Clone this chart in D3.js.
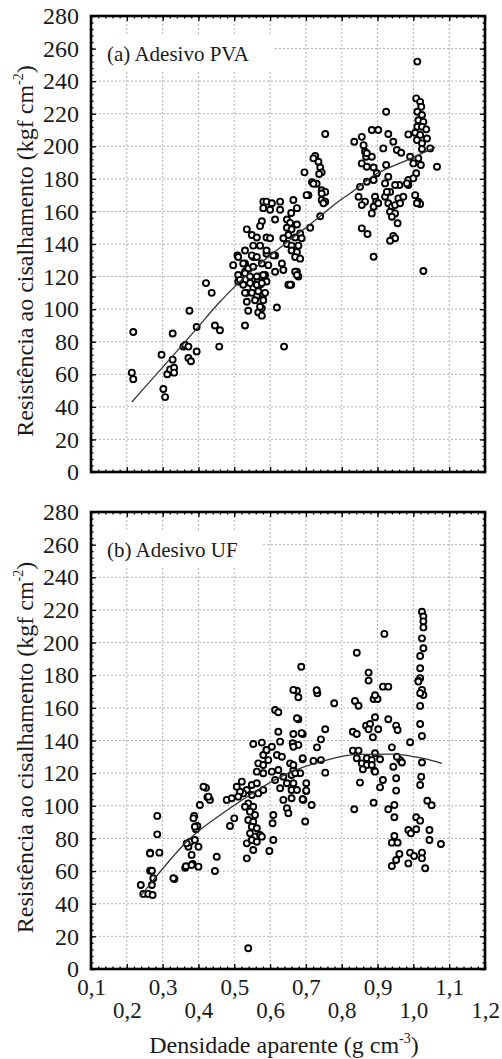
<!DOCTYPE html>
<html>
  <head>
    <meta charset="utf-8" />
    <title>densidade x resistencia</title>
    <script src="https://cdn.jsdelivr.net/npm/d3@7"></script>
    <style>
      body { margin: 0; background: #fff; }
      text { font-family: "Liberation Serif", "Tinos", "Times New Roman", "Nimbus Roman", "DejaVu Serif", serif; fill: #1a1a1a; }
    </style>
  </head>
  <body>
    <svg id="chart"></svg>
    <script>

      // (a) Adesivo PVA - densidade (g cm-3), resistencia (kgf cm-2)
      var pvaPoints = [
        [0.218,86],[0.214,61],[0.218,57],[0.302,51],[0.307,46],[0.297,72],[0.328,85],[0.328,69],[0.313,60],[0.321,63],
        [0.332,64],[0.332,61],[0.358,77],[0.363,78],[0.372,77],[0.372,70],[0.379,68],[0.395,74],[0.395,89],[0.375,99],
        [0.421,116],[0.437,110],[0.446,90],[0.46,87],[0.458,77],[0.53,90],[0.619,101],[0.639,77],
        [0.509,133],[0.497,127],[0.53,128],[0.553,132],[0.59,134],[0.614,133],[0.633,128],[0.637,124],[0.614,123],[0.511,121],
        [0.511,117],[0.53,123],[0.549,118],[0.572,120],[0.586,121],[0.59,117],[0.525,115],[0.535,110],[0.553,113],[0.572,115],
        [0.563,108],[0.581,109],[0.535,104.5],[0.539,99],[0.567,98],[0.577,100.5],[0.577,96],[0.651,115],
        [0.754,207.5],[0.726,194],[0.735,190.5],[0.74,187],[0.744,184],[0.696,184],[0.717,178],[0.73,177],[0.707,170],[0.744,173],
        [0.754,172],[0.744,167],[0.754,166],[0.74,157],[0.581,166],[0.59,166],[0.605,165],[0.628,166],[0.581,162],[0.6,161],
        [0.628,161],[0.665,167],[0.675,162],[0.659,159],[0.614,155],[0.577,154],[0.572,151],[0.535,149],[0.549,145.5],[0.563,144],
        [0.59,144],[0.6,143.5],[0.647,155],[0.656,153],[0.647,150],[0.66,149],[0.675,152],[0.651,145.5],[0.637,143.5],[0.67,144],
        [0.684,146.5],[0.688,143.5],[0.712,150],[0.553,139],[0.572,139],[0.59,136],[0.53,136],[0.549,133],[0.563,132],[0.609,133],
        [0.647,140],[0.66,139],[0.679,139],[0.66,136],[0.675,135],[0.67,132],[0.684,131],[0.511,132],[0.525,128],[0.539,125],
        [0.553,126],[0.577,128],[0.595,127],[0.675,123],[0.679,120],[0.659,115],[0.516,118],[0.53,122],[0.544,120],[0.563,120],
        [0.581,121],[0.544,116],[0.563,115],[0.577,116],[0.53,110],[0.549,110],[0.567,111],[0.586,110],[0.558,105.5],[0.581,105.5],
        [0.572,101.5],[0.656,115],[0.67,123],[0.675,121],[0.702,170],[0.721,177],[0.749,165],[0.744,171],[0.721,192.6],[0.737,183],
        [1.011,252],[1.008,229.4],[1.019,227.3],[1.022,224.3],[1.011,221.2],[1.024,219.2],[1.014,216],[1.028,215],[1.011,212],[1.024,212],
        [1.036,210.4],[0.986,207.3],[1.005,208.3],[1.019,207],[1.038,204.8],[1.01,203.8],[1.024,201.8],[1.047,198.7],[1.024,198.3],[1.066,187.4],
        [0.924,221.2],[0.884,210],[0.902,210],[0.93,207.5],[0.835,202.8],[0.856,205.8],[0.861,200.7],[0.944,202.8],[0.916,198.7],[0.954,197.7],
        [0.966,196],[0.865,196.6],[0.868,193.6],[0.884,193.6],[0.856,189.5],[0.87,187.4],[0.889,187],[0.924,188.5],[0.898,183.4],[0.889,179.3],
        [0.93,181.3],[0.991,193.6],[1.014,192.6],[1.021,188.5],[1.0,189.5],[1.008,183.4],[0.986,179.3],[1.0,180.3],[0.986,176.2],[0.87,178.2],
        [0.851,175.1],[0.921,177.2],[0.961,176.2],[0.935,172],[0.847,169],[0.865,166],[0.856,163.9],[0.893,169],[0.896,166],[0.889,162.9],
        [0.884,158.8],[0.921,169],[0.93,165],[0.94,162.9],[0.949,163.9],[0.958,168],[0.972,169],[0.935,159.8],[0.949,158.8],[0.94,156.7],
        [1.005,170],[1.014,166],[1.019,164.6],[0.956,152.7],[0.856,149.6],[0.872,146.1],[0.944,145],[0.949,143.5],[0.935,142],
        [0.889,132.2],[1.028,123.4],[1.01,165],[0.926,172],[0.949,176.2],[0.982,177.2],[0.963,165],[0.902,165],[0.87,195.7]
      ];

      // linha de ajuste (a)
      var pvaFit = [
        [0.214,43],[0.395,88],[0.46,104.5],[0.502,114],[0.74,157],[0.796,167],[0.823,171],[0.889,182],[0.982,191.5],[1.061,199.3]
      ];

      // (b) Adesivo UF
      var ufPoints = [
        [0.539,12.7],[0.239,51.5],[0.246,46],[0.26,46],[0.272,45.3],[0.27,51.5],[0.265,60.2],[0.274,55.6],[0.265,71.3],[0.291,71.3],
        [0.285,82.5],[0.285,93.8],[0.333,55.1],[0.363,62],[0.365,63],[0.384,64.3],[0.4,62.7],[0.381,69.9],[0.372,74.9],[0.377,78],
        [0.39,79],[0.4,74.9],[0.393,85.6],[0.397,87.6],[0.388,93.8],[0.404,100.5],[0.421,111],[0.425,105.3],[0.432,103.6],[0.451,68.8],
        [0.446,60],[0.479,103.6],[0.493,104.6],[0.488,87.6],[0.5,92.3],[0.535,67.8],[0.535,77],[0.553,72.9],[0.598,72.3],[0.609,79],
        [0.607,89.3],[0.609,94.4],[0.698,90.4],[0.691,104],[0.701,109],
        [0.521,114.8],[0.535,109.7],[0.549,112.7],[0.563,113.8],[0.525,107.6],[0.549,106.6],[0.567,107.6],[0.581,109.7],[0.539,101.5],[0.553,99.4],
        [0.53,99.4],[0.544,96.4],[0.558,94.4],[0.539,91.3],[0.553,90.2],[0.549,87.2],[0.563,86.2],[0.544,83.1],[0.558,81.1],[0.572,82.1],
        [0.577,81.1],[0.549,79],[0.563,78],[0.516,108.6],[0.507,111.7],[0.511,105.6],
        [0.553,137.9],[0.577,138.7],[0.59,134.2],[0.581,131.1],[0.567,126],[0.581,125],[0.595,128],[0.619,131.1],[0.633,130],[0.563,120.9],
        [0.581,119.9],[0.605,120.9],[0.623,121.9],[0.614,115.8],[0.637,117.8],[0.628,110.7],[0.656,126],[0.665,121.9],[0.66,118.9],[0.647,113.8],
        [0.66,109.7],[0.637,103.6],[0.647,98.5],[0.651,95.4],[0.665,137.9],[0.679,137.3],[0.691,128.5],[0.684,119.9],[0.701,113.8],[0.693,103.6],
        [0.605,136.2],
        [1.024,218.9],[1.028,216],[1.028,213],[1.028,209.3],[1.024,202.6],[1.028,196.5],[1.019,191.8],[1.019,184.3],[1.019,178.2],[1.014,176.7],
        [1.024,171],[1.028,167.9],[1.019,161.2],[1.019,150.1],[1.024,142.8],[1.024,126.5],[1.022,117.8],[1.019,112.7],[0.919,205.3],[0.842,193.8],
        [0.875,181.6],[0.875,176.7],[0.915,173],[0.687,185.2],[0.675,170.5],[0.679,166.5],[0.732,168.9],[0.779,162.8],[0.837,164.2],[0.847,161.3],
        [0.889,165.4],[0.9,165.4],[0.679,153],[0.754,146.9],[0.665,144],[0.691,144],[0.663,138.3],[0.742,140.7],[0.731,135.8],[0.831,145.4],
        [0.842,144],[0.868,149.1],[0.879,150.1],[0.893,154.2],[0.875,146.9],[0.887,142],[0.902,146.9],[0.93,153],[0.952,149.1],[0.956,146.4],
        [0.991,138.9],[0.94,135.8],[0.831,133.8],[0.847,133.8],[0.842,129.1],[0.856,126],[0.87,129.1],[0.884,128],[0.893,132.2],[0.87,125],
        [0.859,122.4],[0.884,125],[0.891,121.5],[0.907,128.5],[0.893,120.9],[0.944,123.9],[0.963,128],[0.954,130],[0.968,126.5],[0.851,114.2],
        [0.915,115.8],[0.907,111.3],[0.952,116.9],[0.952,109.3],[0.889,101.9],[0.835,97.9],[0.754,120.3],[0.691,129.1],[0.721,127.5],[0.742,128],
        [0.701,109.3],[0.691,104],[0.716,100.5],[0.93,97.9],[0.947,100.5],[0.947,93],[1.008,93],[1.019,90.9],[1.039,103.1],[1.051,100.3],
        [1.045,85.2],[1.045,79],[1.077,76.6],[0.947,81.5],[0.94,77.4],[0.956,77.4],[0.961,70.5],[0.952,66.8],[0.94,63.1],[0.986,85.2],
        [0.993,83.1],[1.008,85.6],[0.991,71.3],[1.002,69.2],[1.024,71.3],[1.024,67.8],[0.986,64.7],[1.033,61.7],[0.665,125],[0.67,119.9],
        [0.675,109.7],[0.665,113.8],[0.66,104.6],
        [0.665,171],[0.73,170.8],[0.893,167.7],[0.93,173],[1.014,176.1],[1.019,169],[0.614,158.7],[0.623,157.3],[0.623,145.4],[0.628,139.3],
        [0.675,153.6],[0.665,136.2],[0.688,144.5],[0.59,134.2],[0.414,111.7],[0.428,105.6],[0.265,70.8],[0.27,60.2],
        [0.33,55.6],[0.367,77],[0.386,92.3],[0.39,87.2],[0.381,63.7]
      ];

      var ufFit = [
        [0.237,44.3],[0.274,54.5],[0.367,78],[0.488,98.5],[0.656,120.5],[0.749,127.5],[0.842,131.5],[0.935,131.7],[1.028,129],[1.08,126]
      ];

      var xTicks = [0.1, 0.2, 0.3, 0.4, 0.5, 0.6, 0.7, 0.8, 0.9, 1.0, 1.1, 1.2];
      var yTicks = [0, 20, 40, 60, 80, 100, 120, 140, 160, 180, 200, 220, 240, 260, 280];

      var width = 502;
      var height = 1059;
      var left = 91, right = 485;
      var serif = "'Liberation Serif', 'Tinos', 'Times New Roman', 'Nimbus Roman', 'DejaVu Serif', serif";

      var svg = d3.select("#chart")
        .attr("width", width)
        .attr("height", height);

      svg.append("rect").attr("width", width).attr("height", height).attr("fill", "#fff");

      var x = d3.scaleLinear().domain([0.1, 1.2]).range([left, right]);
      var xMinor = d3.range(0, 56).map(function(i) { return 0.1 + i * 0.02; });
      var yMinor = d3.range(0, 71).map(function(i) { return i * 4; });

      function drawPanel(points, fit, label, top, bottom, showX) {
        var y = d3.scaleLinear().domain([0, 280]).range([bottom, top]);
        var g = svg.append("g");

        // grade pontilhada
        g.selectAll(".gx").data(xTicks.slice(1, -1)).enter().append("line")
          .attr("x1", function(d) { return x(d); }).attr("x2", function(d) { return x(d); })
          .attr("y1", top).attr("y2", bottom)
          .attr("stroke", "#b4b4b4").attr("stroke-width", 1).attr("stroke-dasharray", "2,2");
        g.selectAll(".gy").data(yTicks.slice(1, -1)).enter().append("line")
          .attr("y1", function(d) { return y(d); }).attr("y2", function(d) { return y(d); })
          .attr("x1", left).attr("x2", right)
          .attr("stroke", "#b4b4b4").attr("stroke-width", 1).attr("stroke-dasharray", "2,2");

        // rotulo com fundo branco
        var lab = g.append("g");
        var t = lab.append("text")
          .attr("x", left + 16).attr("y", top + 45)
          .attr("font-family", serif)
          .attr("font-size", "21px")
          .text(label);
        var bb = t.node().getBBox();
        lab.insert("rect", "text")
          .attr("x", left + 1).attr("y", bb.y - 8)
          .attr("width", bb.x + bb.width + 24 - left).attr("height", bb.height + 14)
          .attr("fill", "#fff");

        // pontos
        g.selectAll(".pt").data(points).enter().append("circle")
          .attr("cx", function(d) { return x(d[0]); })
          .attr("cy", function(d) { return y(d[1]); })
          .attr("r", 3)
          .attr("fill", "#fff")
          .attr("stroke", "#000")
          .attr("stroke-width", 1.9);

        var line = d3.line()
          .x(function(d) { return x(d[0]); })
          .y(function(d) { return y(d[1]); })
          .curve(d3.curveMonotoneX);
        g.append("path").datum(fit)
          .attr("d", line)
          .attr("fill", "none")
          .attr("stroke", "#333")
          .attr("stroke-width", 1.3);

        // ticks internos
        function ticks(axis, vals, size, tr) {
          var a = g.append("g").attr("transform", tr)
            .call(axis.tickValues(vals).tickSize(size).tickFormat(""));
          a.select(".domain").remove();
          a.selectAll("line").attr("stroke", "#000").attr("stroke-width", 1.3);
        }
        ticks(d3.axisBottom(x), xMinor, -2.5, "translate(0," + bottom + ")");
        ticks(d3.axisBottom(x), xTicks, -5, "translate(0," + bottom + ")");
        ticks(d3.axisTop(x), xMinor, -2.5, "translate(0," + top + ")");
        ticks(d3.axisTop(x), xTicks, -5, "translate(0," + top + ")");
        ticks(d3.axisLeft(y), yMinor, -2.5, "translate(" + left + ",0)");
        ticks(d3.axisLeft(y), yTicks, -5, "translate(" + left + ",0)");
        ticks(d3.axisRight(y), yMinor, -2.5, "translate(" + right + ",0)");
        ticks(d3.axisRight(y), yTicks, -5, "translate(" + right + ",0)");

        g.append("rect")
          .attr("x", left).attr("y", top)
          .attr("width", right - left).attr("height", bottom - top)
          .attr("fill", "none").attr("stroke", "#000").attr("stroke-width", 2.6);

        // rotulos do eixo y
        var ya = g.append("g").attr("transform", "translate(" + left + ",0)")
          .call(d3.axisLeft(y).tickValues(yTicks).tickSize(0).tickPadding(12));
        ya.select(".domain").remove();
        ya.attr("font-family", serif);
        ya.selectAll("text").attr("font-size", "24px").attr("font-family", serif).attr("fill", "#1a1a1a");

        var cy = (top + bottom) / 2 + 7;
        var yt = g.append("text")
          .attr("transform", "translate(33," + cy + ") rotate(-90)")
          .attr("text-anchor", "middle")
          .attr("font-family", serif)
          .attr("font-size", "24px");
        yt.append("tspan").text("Resistência ao cisalhamento (kgf cm");
        yt.append("tspan").attr("font-size", "14px").attr("dy", -10).text("-2");
        yt.append("tspan").attr("dy", 10).text(")");

        if (showX) {
          var xa = g.append("g").attr("transform", "translate(0," + bottom + ")")
            .call(d3.axisBottom(x).tickValues(xTicks).tickSize(0)
              .tickFormat(function(d) { return d3.format(".1f")(d).replace(".", ","); }));
          xa.select(".domain").remove();
          xa.attr("font-family", serif);
          xa.selectAll("text")
            .attr("font-size", "23px").attr("font-family", serif).attr("fill", "#1a1a1a")
            .attr("dy", 0)
            .attr("y", function(d, i) { return i % 2 === 0 ? 26 : 49; });

          var xt = svg.append("text")
            .attr("x", 284).attr("y", bottom + 84)
            .attr("text-anchor", "middle")
            .attr("font-family", serif)
            .attr("font-size", "24px");
          xt.append("tspan").text("Densidade aparente (g cm");
          xt.append("tspan").attr("font-size", "14px").attr("dy", -10).text("-3");
          xt.append("tspan").attr("dy", 10).text(")");
        }
      }

      drawPanel(pvaPoints, pvaFit, "(a) Adesivo PVA", 16, 472, false);
      drawPanel(ufPoints, ufFit, "(b) Adesivo UF", 512, 969, true);

    </script>
  </body>
</html>
